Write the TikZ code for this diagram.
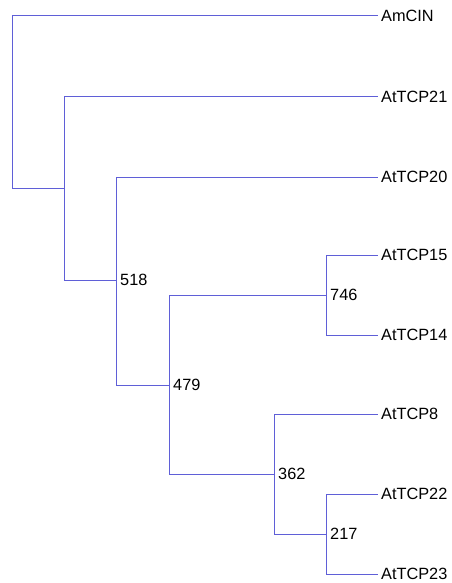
\documentclass[tikz,border=0pt]{standalone}
\usepackage{fontspec}
\setmainfont{Liberation Sans}
\usetikzlibrary{positioning}
\definecolor{treeblue}{RGB}{95,95,215}

\begin{document}
\begin{tikzpicture}[x=1pt,y=-1pt,
    branch/.style={draw=treeblue,line width=1pt},
    leaf node/.style={anchor=west,inner sep=3pt,font=\fontsize{16.3}{19}\selectfont},
    boot node/.style={inner sep=1pt,font=\fontsize{16.3}{19}\selectfont}]
  \useasboundingbox (0,0) rectangle (451,583);
  % leaves
  \node[leaf node] (amcin) at (378,16) {AmCIN};
  \node[leaf node] (tcp21) at (378,97) {AtTCP21};
  \node[leaf node] (tcp20) at (378,177) {AtTCP20};
  \node[leaf node] (tcp15) at (378,255) {AtTCP15};
  \node[leaf node] (tcp14) at (378,335) {AtTCP14};
  \node[leaf node] (tcp8) at (378,414) {AtTCP8};
  \node[leaf node] (tcp22) at (378,494) {AtTCP22};
  \node[leaf node] (tcp23) at (378,574) {AtTCP23};
  % inner nodes
  \coordinate (root) at (12,102);
  \coordinate (n21) at (64,188);
  \coordinate (n518) at (116,280);
  \coordinate (n479) at (169,385);
  \coordinate (n746) at (326,295);
  \coordinate (n362) at (274,474);
  \coordinate (n217) at (326,534);
  % bootstrap values
  \node[boot node,right=3pt of n518] (b518) {518};
  \node[boot node,right=3pt of n479] (b479) {479};
  \node[boot node,right=3pt of n746] (b746) {746};
  \node[boot node,right=3pt of n362] (b362) {362};
  \node[boot node,right=3pt of n217] (b217) {217};
  % branches
  \path[branch] (root) |- (amcin.west);
  \path[branch] (root) |- (n21);
  \path[branch] (n21) |- (tcp21.west);
  \path[branch] (n21) |- (n518);
  \path[branch] (n518) |- (tcp20.west);
  \path[branch] (n518) |- (n479);
  \path[branch] (n479) |- (n746);
  \path[branch] (n479) |- (n362);
  \path[branch] (n746) |- (tcp15.west);
  \path[branch] (n746) |- (tcp14.west);
  \path[branch] (n362) |- (tcp8.west);
  \path[branch] (n362) |- (n217);
  \path[branch] (n217) |- (tcp22.west);
  \path[branch] (n217) |- (tcp23.west);
\end{tikzpicture}
\end{document}
